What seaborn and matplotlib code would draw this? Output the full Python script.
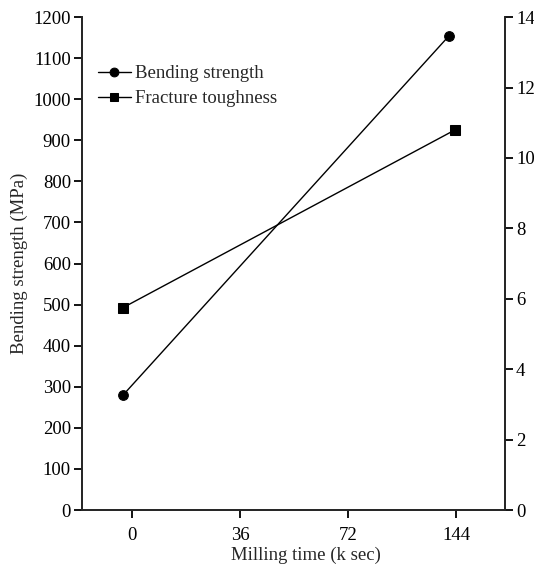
import pandas as pd
import numpy as np
import matplotlib
matplotlib.use("Agg")
import matplotlib.pyplot as plt
import seaborn as sns

# data
tick_positions = [0, 36, 72, 108]
tick_labels = ['0', '36', '72', '144']
bend_x = [-3, 105.7]
bend_y = [280, 1155]
tough_x = [-3, 107.7]
tough_y = [5.75, 10.8]

sns.set_style("ticks")
plt.rcParams['font.family'] = ['Liberation Serif', 'DejaVu Serif']
plt.rcParams['font.size'] = 13.5

fig = plt.figure(figsize=(5.34, 5.71), dpi=100)
ax = fig.add_axes([0.1536, 0.1068, 0.7921, 0.8632])
ax2 = ax.twinx()

sns.lineplot(x=bend_x, y=bend_y, ax=ax, color='black', marker='o',
             markersize=7, linewidth=1, markeredgecolor='black',
             label='Bending strength', legend=False)
sns.lineplot(x=tough_x, y=tough_y, ax=ax2, color='black', marker='s',
             markersize=7, linewidth=1, markeredgecolor='black',
             label='Fracture toughness', legend=False)

ax.set_xlim(-16.7, 124.3)
ax.set_ylim(0, 1200)
ax2.set_ylim(0, 14)
ax.set_yticks(np.arange(0, 1201, 100))
ax2.set_yticks(np.arange(0, 15, 2))
ax.set_xticks(tick_positions)
ax.set_xticklabels(tick_labels)

ax.set_xlabel('Milling time (k sec)', fontsize=13.5)
ax.set_ylabel('Bending strength (MPa)', fontsize=13.5, labelpad=4)

for a in (ax, ax2):
    a.spines['top'].set_visible(False)
    for s in a.spines.values():
        s.set_linewidth(1.3)
    a.tick_params(direction='out', length=6, width=1.3, pad=2,
                  labelsize=13.5, colors='black')
ax.tick_params(axis='x', pad=6)
ax.xaxis.set_label_coords(0.53, -0.075)

h1, l1 = ax.get_legend_handles_labels()
h2, l2 = ax2.get_legend_handles_labels()
ax2.legend(h1 + h2, l1 + l2, loc='upper left', bbox_to_anchor=(0.01, 0.925),
           frameon=False, handlelength=1.8, handletextpad=0.2,
           labelspacing=0.4, borderaxespad=0.2, fontsize=13.5,
           markerscale=0.9)

plt.savefig('out.png', dpi=100)
